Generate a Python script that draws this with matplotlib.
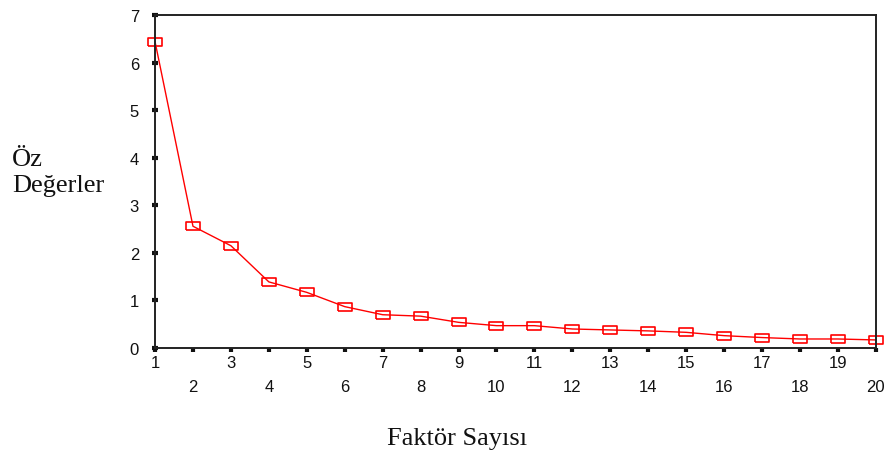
import matplotlib
matplotlib.use("Agg")
import matplotlib.pyplot as plt

# scree plot values
faktor = list(range(1, 21))
oz_deger = [6.44, 2.56, 2.15, 1.39, 1.17, 0.87, 0.70, 0.67, 0.54, 0.47,
            0.47, 0.40, 0.38, 0.36, 0.33, 0.26, 0.22, 0.19, 0.19, 0.17]
odd_ticks = [x for x in faktor if x % 2 == 1]
even_ticks = [x for x in faktor if x % 2 == 0]
y_ticks = [0, 1, 2, 3, 4, 5, 6, 7]

fig = plt.figure(figsize=(8.91, 4.56), dpi=100)
ax = fig.add_axes([0.174, 0.2346, 0.809, 0.7303])

box = [(-1, -0.6), (1, -0.6), (1, 0.6), (-1, 0.6), (-1, -0.6)]
ax.plot(faktor, oz_deger, color="#ff0000", linewidth=1.0,
        marker=box, markersize=10.5, markerfacecolor="none",
        markeredgecolor="#ff0000", markeredgewidth=1.2, clip_on=False)

ax.set_xlim(1, 20)
ax.set_ylim(0, 7)
ax.set_yticks(y_ticks)
ax.set_xticks(odd_ticks)
ax.set_xticks(even_ticks, minor=True)
ax.set_xticklabels([str(x) for x in odd_ticks])
ax.set_xticklabels([str(x) for x in even_ticks], minor=True)

for s in ax.spines.values():
    s.set_linewidth(1.4)
    s.set_color("#222222")

ax.tick_params(axis="y", direction="inout", length=5, width=3, pad=9,
               labelsize=12, colors="#111111")
ax.tick_params(axis="x", which="major", direction="out", length=3, width=3,
               pad=2, labelsize=12, colors="#111111")
ax.tick_params(axis="x", which="minor", direction="out", length=3, width=3,
               pad=19, labelsize=12, colors="#111111")
for lab in ax.get_xticklabels() + ax.get_xticklabels(minor=True) + ax.get_yticklabels():
    lab.set_fontfamily("Liberation Sans")

fig.text(12 / 891, 1 - 160 / 456, "Öz", family="Liberation Serif",
         fontsize=19, va="center", ha="left", color="#111111")
fig.text(12 / 891, 1 - 186 / 456, "Değerler", family="Liberation Serif",
         fontsize=19, va="center", ha="left", color="#111111")
fig.text(457 / 891, 1 - 439 / 456, "Faktör Sayısı", family="Liberation Serif",
         fontsize=19, va="center", ha="center", color="#111111")

fig.savefig("out.png", dpi=100)
